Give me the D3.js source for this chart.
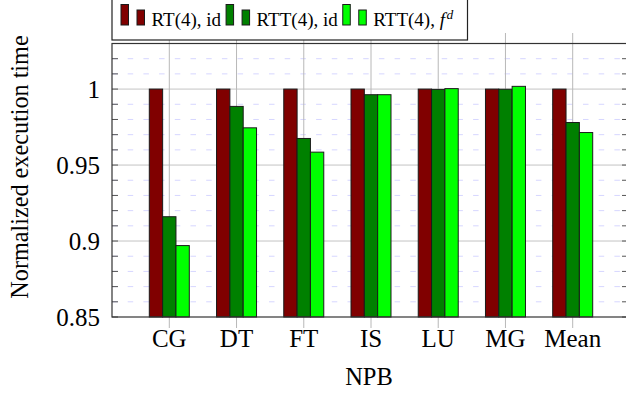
<!DOCTYPE html>
<html>
<head>
<meta charset="utf-8">
<script src="https://cdn.jsdelivr.net/npm/d3@7"></script>
<style>
  body { margin: 0; background: #fff; }
  svg { display: block; font-family: "Liberation Serif", "DejaVu Serif", serif; }
</style>
</head>
<body>
<div id="stage"></div>
<script>
// data
var categories = ['CG', 'DT', 'FT', 'IS', 'LU', 'MG', 'Mean'];
var seriesNames = ['RT(4), id', 'RTT(4), id', 'RTT(4), fd'];
var rtId = [1, 1, 1, 1, 1, 1, 1];
var rttId = [0.916, 0.9886, 0.9675, 0.9963, 0.9998, 0.9999, 0.978];
var rttFd = [0.897, 0.9745, 0.9585, 0.9963, 1.0003, 1.0018, 0.9714];
var seriesColors = ['#800000', '#008000', '#00ff00'];
var majorTicks = [0.85, 0.9, 0.95, 1];
var yTickLabels = ['0.85', '0.9', '0.95', '1'];

var width = 626, height = 393;
var plotLeft = 112, plotRight = 628, plotTop = 43.5, plotBottom = 317;

var svg = d3.select('#stage').append('svg')
	.attr('width', width)
	.attr('height', height);

var y = d3.scaleLinear().domain([0.85, 1.03]).range([plotBottom, plotTop]);
var x = d3.scalePoint().domain(categories).range([169.3, 572.7]);
var xs = d3.scaleBand().domain([0, 1, 2]).range([-20, 20]);

// minor grid (dashed), every 0.01
var minor = d3.range(86, 103).map(function(v) { return v / 100; })
	.filter(function(v) { return Math.round(v * 100) % 5 !== 0; });

svg.append('g').selectAll('line')
	.data(minor)
	.enter()
	.append('line')
	.attr('x1', plotLeft).attr('x2', plotRight)
	.attr('y1', function(d) { return y(d); })
	.attr('y2', function(d) { return y(d); })
	.attr('stroke', '#d6d6ff')
	.attr('stroke-width', 1)
	.attr('stroke-dasharray', '5.5,10.2');

// major grid
svg.append('g').selectAll('line')
	.data(majorTicks.slice(1))
	.enter()
	.append('line')
	.attr('x1', plotLeft).attr('x2', plotRight)
	.attr('y1', function(d) { return y(d); })
	.attr('y2', function(d) { return y(d); })
	.attr('stroke', '#c4c4c4')
	.attr('stroke-width', 1);

// vertical grid lines (stick out above and below the box)
svg.append('g').selectAll('line')
	.data(categories)
	.enter()
	.append('line')
	.attr('x1', function(d) { return x(d); })
	.attr('x2', function(d) { return x(d); })
	.attr('y1', plotTop - 10.5)
	.attr('y2', plotBottom + 11)
	.attr('stroke', '#b8b8b8')
	.attr('stroke-width', 1);

// y ticks on both sides
var allTicks = minor.concat(majorTicks);
svg.append('g').selectAll('line')
	.data(allTicks)
	.enter()
	.append('line')
	.attr('x1', plotLeft).attr('x2', plotLeft + 6)
	.attr('y1', function(d) { return y(d); })
	.attr('y2', function(d) { return y(d); })
	.attr('stroke', '#555');
svg.append('g').selectAll('line')
	.data(allTicks)
	.enter()
	.append('line')
	.attr('x1', plotRight - 6).attr('x2', plotRight)
	.attr('y1', function(d) { return y(d); })
	.attr('y2', function(d) { return y(d); })
	.attr('stroke', '#555');

// bars
var seriesData = [rtId, rttId, rttFd];
seriesData.forEach(function(vals, s) {
	svg.append('g').selectAll('rect')
		.data(vals)
		.enter()
		.append('rect')
		.attr('x', function(d, i) { return x(categories[i]) + xs(s); })
		.attr('width', xs.bandwidth())
		.attr('y', function(d) { return y(d); })
		.attr('height', function(d) { return plotBottom - y(d); })
		.attr('fill', seriesColors[s])
		.attr('stroke', '#1a1a1a')
		.attr('stroke-width', 1);
});

// axis box
svg.append('rect')
	.attr('x', plotLeft).attr('y', plotTop)
	.attr('width', plotRight - plotLeft).attr('height', plotBottom - plotTop)
	.attr('fill', 'none')
	.attr('stroke', '#333')
	.attr('stroke-width', 1.2);

// y tick labels
svg.append('g').selectAll('text')
	.data(majorTicks)
	.enter()
	.append('text')
	.attr('x', 100)
	.attr('y', function(d) { return y(d) + 9; })
	.attr('text-anchor', 'end')
	.style('font-size', '25px')
	.text(function(d, i) { return yTickLabels[i]; });

// x tick labels
svg.append('g').selectAll('text')
	.data(categories)
	.enter()
	.append('text')
	.attr('x', function(d) { return x(d); })
	.attr('y', 346.5)
	.attr('text-anchor', 'middle')
	.style('font-size', '25px')
	.text(function(d) { return d; });

// axis titles
svg.append('text')
	.attr('x', 369).attr('y', 385)
	.attr('text-anchor', 'middle')
	.style('font-size', '24.5px')
	.text('NPB');

svg.append('text')
	.attr('transform', 'translate(28,167) rotate(-90)')
	.attr('text-anchor', 'middle')
	.style('font-size', '24.2px')
	.text('Normalized execution time');

// legend
var legend = svg.append('g');
var box = legend.append('rect')
	.attr('x', plotLeft).attr('y', -5)
	.attr('height', 45)
	.attr('fill', '#fff')
	.attr('stroke', '#222')
	.attr('stroke-width', 1.2);

var cx = 121;
seriesNames.forEach(function(name, s) {
	legend.append('rect')
		.attr('x', cx).attr('y', 4.5)
		.attr('width', 7.5).attr('height', 20.5)
		.attr('fill', seriesColors[s]).attr('stroke', '#1a1a1a');
	legend.append('rect')
		.attr('x', cx + 16).attr('y', 10)
		.attr('width', 7.5).attr('height', 15)
		.attr('fill', seriesColors[s]).attr('stroke', '#1a1a1a');
	var t = legend.append('text')
		.attr('x', cx + 30.5).attr('y', 25.5)
		.style('font-size', '19px');
	if (s === 2) {
		t.append('tspan').text('RTT(4), ');
		t.append('tspan').style('font-style', 'italic').text('f');
		t.append('tspan').style('font-style', 'italic').style('font-size', '13.5px')
			.attr('dy', -7).attr('dx', 1.5).text('d');
	} else {
		t.text(name);
	}
	cx = cx + 30.5 + t.node().getComputedTextLength() + 5;
});
box.attr('width', 467.5 - plotLeft);
</script>
</body>
</html>
